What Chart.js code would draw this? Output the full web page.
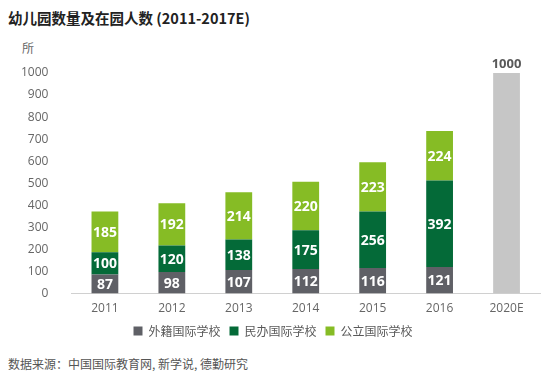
<!DOCTYPE html>
<html><head><meta charset="utf-8">
<script src="https://cdn.jsdelivr.net/npm/chart.js@4/dist/chart.umd.min.js"></script>
<style>
html,body{margin:0;padding:0;background:#fff;}
#wrap{position:relative;width:550px;height:377px;font-family:"Open Sans","Noto Sans CJK SC",sans-serif;}
#title{position:absolute;left:8px;top:7px;font-size:14.5px;font-weight:bold;color:#222;font-family:"Noto Sans CJK SC","Open Sans",sans-serif;}
#unit{position:absolute;left:22px;top:39px;font-size:12px;color:#666;font-family:"Noto Sans CJK SC",sans-serif;}
#src{position:absolute;left:8px;top:355px;font-size:12px;color:#555;font-family:"Noto Sans CJK SC",sans-serif;}
canvas{position:absolute;left:0;top:0;}
</style></head>
<body><div id="wrap">
<div id="title">幼儿园数量及在园人数 (2011-2017E)</div>
<div id="unit">所</div>
<div id="src">数据来源：中国国际教育网, 新学说, 德勤研究</div>
<canvas id="c" width="550" height="377"></canvas>
</div>
<script>
const categories = ["2011","2012","2013","2014","2015","2016","2020E"];
const foreignSchools = [87, 98, 107, 112, 116, 121, null];
const privateSchools = [100, 120, 138, 175, 256, 392, null];
const publicSchools = [185, 192, 214, 220, 223, 224, null];
const forecastTotal = [null, null, null, null, null, null, 1000];
const seriesNames = ["外籍国际学校", "民办国际学校", "公立国际学校"];

const labelPlugin = {
  id: 'barLabels',
  afterDatasetsDraw(chart) {
    const ctx = chart.ctx;
    ctx.save();
    ctx.textAlign = 'center';
    chart.data.datasets.forEach((ds, di) => {
      const meta = chart.getDatasetMeta(di);
      meta.data.forEach((bar, i) => {
        const v = ds.data[i];
        if (v === null || v === undefined) return;
        if (ds.outsideLabel) {
          ctx.fillStyle = '#595959';
          ctx.font = 'bold 13px "Open Sans", sans-serif';
          ctx.textBaseline = 'bottom';
          ctx.fillText(String(v), bar.x, bar.y - 2);
        } else {
          ctx.fillStyle = '#ffffff';
          ctx.font = 'bold 14px "Open Sans", sans-serif';
          ctx.textBaseline = 'middle';
          ctx.fillText(String(v), bar.x, (bar.y + bar.base) / 2 + 1);
        }
      });
    });
    ctx.restore();
  }
};

new Chart(document.getElementById('c'), {
  type: 'bar',
  data: {
    labels: categories,
    datasets: [
      {label: seriesNames[0], data: foreignSchools, backgroundColor: '#5f6066', stack: 's'},
      {label: seriesNames[1], data: privateSchools, backgroundColor: '#046a38', stack: 's'},
      {label: seriesNames[2], data: publicSchools, backgroundColor: '#86bc25', stack: 's'},
      {label: 'total', data: forecastTotal, backgroundColor: '#c6c6c6', stack: 's', outsideLabel: true}
    ]
  },
  options: {
    responsive: false,
    animation: false,
    layout: {padding: {top: 73, left: 6, right: 10, bottom: 30}},
    datasets: {bar: {barPercentage: 0.4, categoryPercentage: 1.0}},
    scales: {
      x: {
        stacked: true,
        grid: {display: false},
        border: {color: '#d0d0d0'},
        ticks: {color: '#666', font: {size: 12, family: '"Open Sans", sans-serif'}, padding: 0}
      },
      y: {
        stacked: true,
        min: 0, max: 1000,
        grid: {display: false},
        border: {display: false},
        ticks: {stepSize: 100, color: '#666', font: {size: 12, family: '"Open Sans", sans-serif'}, padding: 15,
          callback: (v) => String(v)}
      }
    },
    plugins: {
      legend: {
        position: 'bottom',
        labels: {
          filter: (item) => item.text !== 'total',
          boxWidth: 9, boxHeight: 9,
          color: '#595959',
          font: {size: 12, family: '"Noto Sans CJK SC", sans-serif'},
          padding: 9
        }
      },
      tooltip: {enabled: false}
    }
  },
  plugins: [labelPlugin]
});
</script>
</body></html>
